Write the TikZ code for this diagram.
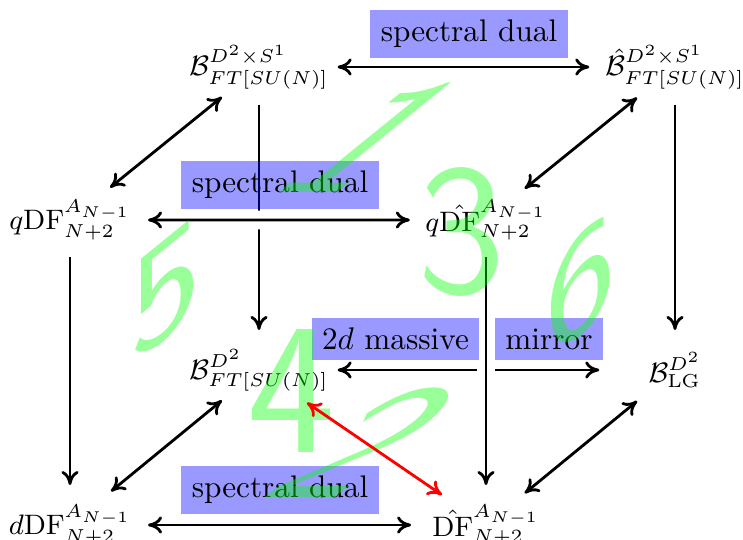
\documentclass[tikz,border=0pt]{standalone}
\usepackage{amsmath}
\usetikzlibrary{arrows.meta,calc}
\begin{document}
\begin{tikzpicture}[x=0.32pt,y=-0.32pt,
  obj/.style={inner sep=0pt,font=\small},
  tip/.tip={Computer Modern Rightarrow[length=4.5pt,width=5.5pt]},
  arr/.style={line width=0.9pt,-tip},
  barr/.style={line width=0.9pt,tip-tip},
  over/.style={preaction={draw=white,line width=6pt,-}},
  lbl/.style={fill=blue,fill opacity=0.4,text opacity=1,inner sep=0.3333em},
  digit/.style={text=green,text opacity=0.4,inner sep=0pt,font=\fontsize{60pt}{60pt}\sffamily\selectfont,transform shape}]
\useasboundingbox (0,0) rectangle (743,540);
% objects
\node[obj] (n1) at (259,67) {$\mathcal{B}^{D^2\times S^1}_{FT[SU(N)]}$};
\node[obj] (n2) at (675,67) {$\hat{\mathcal{B}}^{D^2\times S^1}_{FT[SU(N)]}$};
\node[obj] (n3) at (70,220) {$q\mathrm{DF}^{A_{N-1}}_{N+2}$};
\node[obj] (n4) at (486,220) {$q\hat{\mathrm{DF}}^{A_{N-1}}_{N+2}$};
\node[obj] (n5) at (259,370) {$\mathcal{B}^{D^2}_{FT[SU(N)]}$};
\node[obj] (n6) at (675,370) {$\mathcal{B}^{D^2}_{\mathrm{LG}}$};
\node[obj] (n7) at (70,525) {$d\mathrm{DF}^{A_{N-1}}_{N+2}$};
\node[obj] (n8) at (486,525) {$\hat{\mathrm{DF}}^{A_{N-1}}_{N+2}$};
% back arrows
\draw[barr] ($(n1)!0.189!(n2)$) -- ($(n1)!0.794!(n2)$);
\draw[arr] ($(n1)!0.125!(n5)$) -- ($(n1)!0.868!(n5)$);
\draw[arr] ($(n2)!0.125!(n6)$) -- ($(n2)!0.868!(n6)$);
\draw[barr] ($(n5)!0.189!(n6)$) -- ($(n5)!0.818!(n6)$);
\draw[barr] ($(n3)!0.212!(n1)$) -- ($(n3)!0.804!(n1)$);
\draw[barr] ($(n4)!0.205!(n2)$) -- ($(n4)!0.80!(n2)$);
\draw[barr] ($(n7)!0.217!(n5)$) -- ($(n7)!0.804!(n5)$);
\draw[barr] ($(n8)!0.205!(n6)$) -- ($(n8)!0.80!(n6)$);
% front arrows
\draw[arr] ($(n3)!0.121!(n7)$) -- ($(n3)!0.869!(n7)$);
\draw[barr,over] ($(n3)!0.1875!(n4)$) -- ($(n3)!0.817!(n4)$);
\draw[arr,over] ($(n4)!0.121!(n8)$) -- ($(n4)!0.869!(n8)$);
\draw[barr] ($(n7)!0.1875!(n8)$) -- ($(n7)!0.82!(n8)$);
% labels
\node[lbl] (l1) at (469,34) {spectral dual};
\node[lbl] (l2) at (280,185) {spectral dual};
\node[lbl] (l3) at (280,490) {spectral dual};
\node[lbl] (l4) at (395.5,339) {$2d$ massive};
\node[lbl] (l5) at (549,339) {mirror};
% face numbers
\begin{scope}[shift={(374,138)},cm={1,0,1.075,0.87,(0,0)}]
  \node[digit] (d1) at (0,0) {1};
\end{scope}
\begin{scope}[shift={(368,443)},cm={1,0,1.075,0.87,(0,0)}]
  \node[digit] (d2) at (0,0) {2};
\end{scope}
\node[digit] (d3) at (462,232) {3};
\node[digit] (d4) at (292,391) {4};
\begin{scope}[shift={(166,290)},cm={0.8,0.65,0,0.8,(0,0)}]
  \node[digit] (d5) at (0,0) {5};
\end{scope}
\begin{scope}[shift={(581,285)},cm={0.8,0.65,0,0.8,(0,0)}]
  \node[digit] (d6) at (0,0) {6};
\end{scope}
% red arrow
\draw[barr,red] ($(n5)!0.211!(n8)$) -- ($(n5)!0.806!(n8)$);
\end{tikzpicture}
\end{document}
